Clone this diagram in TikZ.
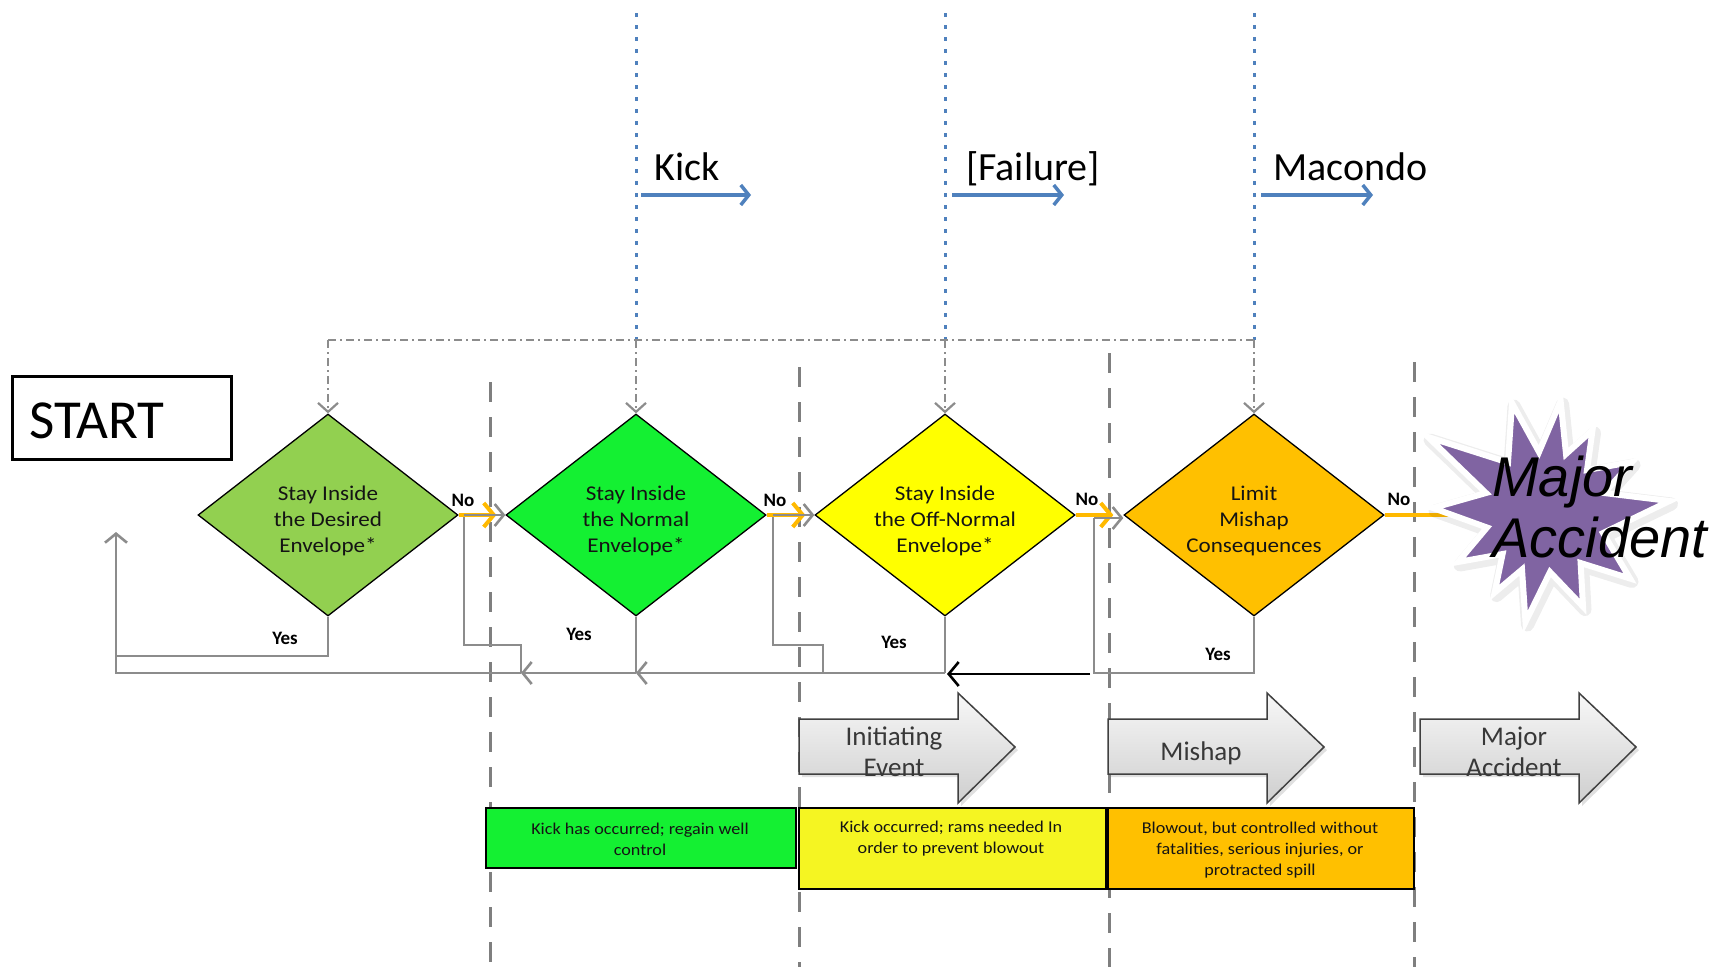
\documentclass[tikz,border=0pt]{standalone}
\usepackage{fontspec}
\setmainfont{Carlito}
\newfontfamily\widefont[FakeStretch=1.1]{Carlito}
\newfontfamily\burstfont{Liberation Sans}
\usetikzlibrary{arrows.meta,shapes.geometric,calc}

\definecolor{desired}{HTML}{92D050}
\definecolor{normal}{HTML}{14F032}
\definecolor{offnormal}{HTML}{FFFF00}
\definecolor{mishapc}{HTML}{FFC000}
\definecolor{boxyellow}{HTML}{F5F522}
\definecolor{flowgray}{HTML}{8C8C8C}
\definecolor{phasegray}{HTML}{7F7F7F}
\definecolor{eventblue}{HTML}{4F81BD}
\definecolor{noorange}{HTML}{FFB900}
\definecolor{burst}{HTML}{8064A2}
\definecolor{txt}{HTML}{141414}

\begin{document}
\begin{tikzpicture}[x=1pt, y=-1pt,
  decision/.style={diamond, draw=black, line width=1.3pt, minimum width=260pt,
    minimum height=202pt, inner sep=0pt},
  decisiontext/.style={align=center, text=txt, inner sep=0pt,
    font=\widefont\fontsize{21}{26}\selectfont},
  answer/.style={font=\bfseries\fontsize{19}{21}\selectfont, text=black, inner sep=0pt},
  phase/.style={draw=phasegray, line width=3pt, dash pattern=on 20pt off 15pt},
  marker/.style={draw=eventblue, line width=3pt, dash pattern=on 3.5pt off 8.5pt},
  timeline/.style={draw=flowgray, line width=1.6pt, dash pattern=on 8pt off 4pt on 2pt off 4pt},
  drop/.style={timeline, -{Straight Barb[length=9pt,width=20pt,line width=2.2pt]}},
  flow/.style={draw=flowgray, line width=2.6pt},
  flowarrow/.style={flow, -{Straight Barb[length=9pt,width=22pt]}},
  kickback/.style={draw=black, line width=2pt, -{Straight Barb[length=10pt,width=24pt,line width=2.6pt]}},
  noarrow/.style={draw=noorange, line width=4pt, -{Straight Barb[length=10pt,width=24pt]}},
  noline/.style={draw=noorange, line width=4pt},
  evarrow/.style={draw=eventblue, line width=3.5pt, -{Straight Barb[length=8pt,width=20pt]}},
  evlabel/.style={anchor=base west, font=\fontsize{40}{44}\selectfont, text=black, inner sep=0pt},
  infobox/.style={draw=black, line width=1.6pt, anchor=north west, inner sep=0pt},
  infotext/.style={align=center, text=txt, font=\widefont\fontsize{16.5}{21}\selectfont, inner sep=0pt},
  blockarrow/.style={draw=black!75, line width=1.5pt, top color=gray!6, bottom color=gray!38},
  blockshadow/.style={fill=black, opacity=0.12},
  eventtext/.style={align=center, text=black!78, font=\fontsize{27}{31}\selectfont, inner sep=0pt},
]
\useasboundingbox (0,0) rectangle (1720,967);

% phase boundaries
\foreach \x/\y in {490/382, 799/367, 1109/353, 1414/362}
  \draw[phase] (\x,\y) -- (\x,967);

% event markers and the timeline linking them
\foreach \x in {636,945,1254}
  \draw[marker] (\x,13) -- (\x,340);
\coordinate (t1) at (328,340);
\coordinate (t2) at (636,340);
\coordinate (t3) at (945,340);
\coordinate (t4) at (1254,340);
\draw[timeline] (t1) -- (t4);

% event arrows and labels
\coordinate (k0) at (641,195);  \coordinate (k1) at (751,195);
\coordinate (f0) at (952,195);  \coordinate (f1) at (1064,195);
\coordinate (mc0) at (1261,195); \coordinate (mc1) at (1373,195);
\draw[evarrow] (k0) -- (k1);
\draw[evarrow] (f0) -- (f1);
\draw[evarrow] (mc0) -- (mc1);
\node[evlabel] (kick) at (654,180) {Kick};
\node[evlabel] (failure) at (966,180) {[Failure]};
\node[evlabel] (macondo) at (1273,180) {Macondo};

% start box
\node[draw=black, line width=3.3pt, minimum width=219pt, minimum height=83pt,
      anchor=north west, inner sep=0pt] (start) at (11,375) {};
\node[anchor=base west, inner sep=0pt, font=\fontsize{55}{60}\selectfont] (starttext) at (29,438) {START};

% decisions
\node[decision, fill=desired]   (d1) at (328,515)  {};
\node[decision, fill=normal]    (d2) at (636,515)  {};
\node[decision, fill=offnormal] (d3) at (945,515)  {};
\node[decision, fill=mishapc]   (d4) at (1254,515) {};
\node[decisiontext] (d1t) at ($(d1.center)+(0,6)$) {Stay Inside\\the Desired\\Envelope*};
\node[decisiontext] (d2t) at ($(d2.center)+(0,6)$) {Stay Inside\\the Normal\\Envelope*};
\node[decisiontext] (d3t) at ($(d3.center)+(0,6)$) {Stay Inside\\the Off-Normal\\Envelope*};
\node[decisiontext] (d4t) at ($(d4.center)+(0,6)$) {Limit\\Mishap\\Consequences};

% drops from the timeline into each decision
\draw[drop] (t1) -- (d1.north);
\draw[drop] (t2) -- (d2.north);
\draw[drop] (t3) -- (d3.north);
\draw[drop] (t4) -- (d4.north);

% feedback routing
\coordinate (ret)    at (116,673);
\coordinate (rettip) at (116,532);
\coordinate (y1)     at (116,656);
\coordinate (n1)     at (464,515);
\coordinate (n1b)    at (521,645);
\coordinate (m1)     at (521,673);
\coordinate (n2)     at (773,515);
\coordinate (n2b)    at (823,645);
\coordinate (m2)     at (823,673);
\coordinate (n3)     at (1094,518);
\coordinate (m3)     at (1094,673);
\coordinate (b2)     at (636,673);
\coordinate (b3)     at (945,673);
\coordinate (b3k)    at (1090,674);
\coordinate (b3t)    at (947,674);

\draw[flow] (d1.south) |- (y1);
\draw[flowarrow] (m1) -- (ret) -- (rettip);
\draw[flowarrow] (b2) -- (m1);
\draw[flowarrow] (b3) -- (b2);
\draw[flow] (d2.south) -- (b2);
\draw[flow] (d3.south) -- (b3);
\draw[flow] (n1) |- (n1b) -- (m1);
\draw[flow] (n2) |- (n2b) -- (m2);
\draw[flow] (d4.south) |- (m3) -- (n3);
\draw[kickback] (b3k) -- (b3t);

% "No" paths
\draw[noarrow] (d1.east) -- ($(d2.west)+(-9,0)$);
\draw[noarrow] (d2.east) -- ($(d3.west)+(-9,0)$);
\draw[noarrow] (d3.east) -- ($(d4.west)+(-10,0)$);
\draw[flowarrow] (n1) -- (d2.west);
\draw[flowarrow] (n2) -- (d3.west);
\draw[flowarrow] (n3) -- (n3 -| d4.west);
\coordinate (burstin) at (1456,515);
\draw[noline] (d4.east) -- (burstin);

% branch labels
\node[answer] (no1) at (463,500) {No};
\node[answer] (no2) at (775,500) {No};
\node[answer] (no3) at (1087,499) {No};
\node[answer] (no4) at (1399,499) {No};
\node[answer] (yes1) at (285,638) {Yes};
\node[answer] (yes2) at (579,634) {Yes};
\node[answer] (yes3) at (894,642) {Yes};
\node[answer] (yes4) at (1218,654) {Yes};

% major accident burst
\def\burstpath{(1669.5,501) -- (1604,493) -- (1632,462) -- (1587,470) -- (1592.5,430)
  -- (1566,454) -- (1560.6,401) -- (1539,452) -- (1512,403) -- (1508,462.5)
  -- (1428,437) -- (1486,493) -- (1433,508) -- (1487,527.5) -- (1458,562)
  -- (1502.6,554) -- (1494.6,592.6) -- (1522,569.5) -- (1525.5,622) -- (1550,572)
  -- (1583,606.6) -- (1580.6,563) -- (1630,578.5) -- (1603,533) -- cycle}
\begin{scope}[shift={(2,3)}]
  \draw[draw=black, opacity=0.07, line width=13pt, line join=round] \burstpath;
\end{scope}
\draw[draw=white, line width=6pt, line join=miter, fill=burst] \burstpath;
\node[anchor=base west, inner sep=0pt, font=\burstfont\itshape\fontsize{56}{60}\selectfont] (major) at (1492,496) {Major};
\node[anchor=base west, inner sep=0pt, font=\burstfont\itshape\fontsize{56}{60}\selectfont] (accident) at (1492,557) {Accident};

% stage arrows
\foreach \L in {799,1108,1420} {
  \fill[blockshadow] (\L+3,722) -- (\L+162,722) -- (\L+162,696) -- (\L+219,750)
    -- (\L+162,806) -- (\L+162,777) -- (\L+3,777) -- cycle;
  \draw[blockarrow] (\L,719) -- (\L+159,719) -- (\L+159,693) -- (\L+216,747)
    -- (\L+159,803) -- (\L+159,774) -- (\L,774) -- cycle;
}
\node[eventtext] (ietext) at (894,752) {Initiating\\Event};
\node[eventtext] (mitext) at (1201,753) {Mishap};
\node[eventtext] (matext) at (1514,752) {Major\\Accident};

% stage descriptions
\node[infobox, fill=normal, minimum width=310pt, minimum height=60pt] (gbox) at (485,807) {};
\node[infobox, fill=boxyellow, minimum width=307pt, minimum height=81pt] (ybox) at (798,807) {};
\node[infobox, fill=mishapc, minimum width=306pt, minimum height=81pt] (obox) at (1107,807) {};
\node[infotext] (gtext) at (640,839) {Kick has occurred; regain well\\control};
\node[infotext] (ytext) at (951,839) {Kick occurred; rams needed In\\order to prevent blowout};
\node[infotext] (otext) at (1260,850) {Blowout, but controlled without\\fatalities, serious injuries, or\\protracted spill};

\end{tikzpicture}
\end{document}
